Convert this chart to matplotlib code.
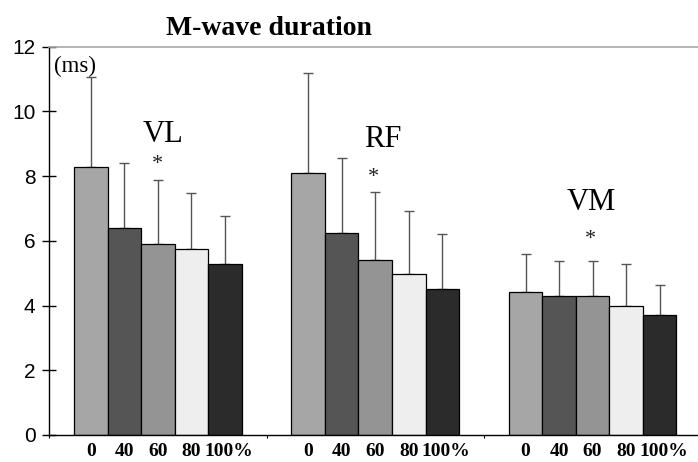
import matplotlib
matplotlib.use("Agg")
import matplotlib.pyplot as plt
import matplotlib.transforms as mtransforms
import numpy as np

groups = ["VL", "RF", "VM"]
levels = ["0", "40", "60", "80", "100%"]
means = {
    "VL": [8.29, 6.39, 5.90, 5.74, 5.28],
    "RF": [8.09, 6.23, 5.40, 4.97, 4.51],
    "VM": [4.43, 4.31, 4.31, 4.00, 3.70],
}
err_top = {
    "VL": [11.06, 8.40, 7.88, 7.47, 6.77],
    "RF": [11.18, 8.55, 7.52, 6.93, 6.22],
    "VM": [5.59, 5.38, 5.38, 5.30, 4.64],
}
colors = ["#a6a6a6", "#555555", "#949494", "#eeeeee", "#2b2b2b"]
yticks = [0, 2, 4, 6, 8, 10, 12]

fig = plt.figure(figsize=(6.98, 4.62), dpi=100)
ax = fig.add_axes([49.3 / 698, 1 - 435 / 462, 1 - 49.3 / 698, (435 - 46.7) / 462])

w = 0.1542
offsets = (np.arange(len(levels)) - 2) * w
tick_pos = []
tick_lab = []
for g, name in enumerate(groups):
    xs = g + offsets
    m = np.array(means[name])
    e = np.array(err_top[name]) - m
    ax.bar(xs, m, width=w, color=colors, edgecolor="black", linewidth=0.9, zorder=2)
    ax.errorbar(xs, m, yerr=[np.zeros_like(e), e], fmt="none", ecolor="#555555",
                elinewidth=1.0, capsize=3.5, capthick=1.0, zorder=1)
    tick_pos.extend(xs)
    tick_lab.extend(levels)

ax.set_xlim(-0.5, -0.5 + (698 - 49.3) / 217.3)
ax.set_ylim(0, 12)

# y axis
ax.set_yticks(yticks)
ax.set_yticklabels([str(v) for v in yticks], fontfamily="Liberation Sans", fontsize=15)
ax.tick_params(axis="y", direction="inout", length=10, width=1.0, pad=5, color="black")

# x axis: tick labels under bars, small ticks at group boundaries
ax.set_xticks(tick_pos)
ax.set_xticklabels(tick_lab, fontfamily="Liberation Serif", fontweight="bold", fontsize=14)
ax.tick_params(axis="x", length=0, pad=6)
lbls = ax.get_xticklabels()
for i, lab in enumerate(lbls):
    if tick_lab[i] == "100%":
        lab.set_transform(lab.get_transform() + mtransforms.ScaledTranslation(4 / 100, 0, fig.dpi_scale_trans))
ax.set_xticks([-0.5, 0.5, 1.5], minor=True)
ax.tick_params(axis="x", which="minor", direction="out", length=2.5, width=0.8)

ax.spines["right"].set_visible(False)
ax.spines["top"].set_color("#a8a8a8")
ax.spines["top"].set_linewidth(1.2)
ax.spines["left"].set_linewidth(1.0)
ax.spines["bottom"].set_linewidth(1.0)

serif = "Liberation Serif"
ax.text(0.023, 9.04, "VL", ha="center", va="baseline", fontfamily=serif, fontsize=22)
ax.text(1.034, 8.90, "RF", ha="center", va="baseline", fontfamily=serif, fontsize=22)
ax.text(1.992, 6.96, "VM", ha="center", va="baseline", fontfamily=serif, fontsize=22)
ax.text(-0.477, 11.23, "(ms)", ha="left", va="baseline", fontfamily=serif, fontsize=16.5)
for x, y in [(0.0, 8.21), (0.994, 7.81), (1.991, 5.90)]:
    ax.text(x, y, "*", ha="center", va="baseline", fontfamily=serif, fontsize=16, color="#222222")

fig.text(269 / 698, 1 - 35 / 462, "M-wave duration", ha="center", va="baseline",
         fontfamily=serif, fontweight="bold", fontsize=20)

fig.savefig("out.png", dpi=100)
